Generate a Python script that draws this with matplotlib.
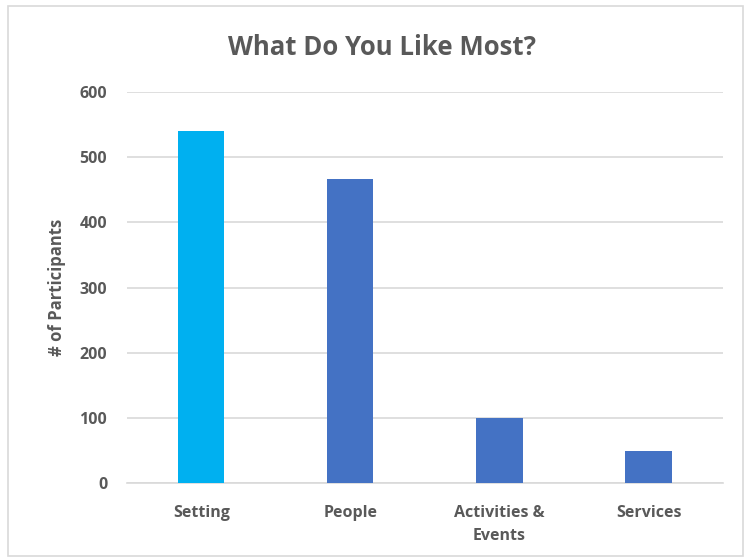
import matplotlib
matplotlib.use('Agg')
import matplotlib.pyplot as plt
from matplotlib.patches import Rectangle

categories = ['Setting', 'People', 'Activities &\nEvents', 'Services']
participants = [540, 467, 100, 49]
bar_colors = ['#00B0F0', '#4472C4', '#4472C4', '#4472C4']
y_ticks = [0, 100, 200, 300, 400, 500, 600]

TEXT = '#595959'
plt.rcParams['font.family'] = ['Open Sans', 'DejaVu Sans']

fig = plt.figure(figsize=(7.54, 5.59), dpi=100)
fig.patch.set_facecolor('white')
# light frame around the whole chart area
fig.add_artist(Rectangle((0.011, 0.005), 0.975, 0.985, transform=fig.transFigure,
                         fill=False, edgecolor='#d9d9d9', linewidth=1.2))

ax = fig.add_axes([0.168, 0.136, 0.791, 0.699])
x = range(len(categories))
ax.bar(x, participants, width=0.31, color=bar_colors, zorder=3)

ax.set_xlim(-0.5, len(categories) - 0.5)
ax.set_ylim(0, 600)
ax.set_yticks(y_ticks)
ax.set_xticks(list(x))
ax.set_xticklabels(categories, fontsize=11.5, color=TEXT, fontweight='bold',
                   linespacing=1.55)
for lbl in ax.get_yticklabels():
    lbl.set_fontsize(11.5)
    lbl.set_color(TEXT)
    lbl.set_fontweight('bold')

ax.grid(axis='y', color='#d9d9d9', linewidth=1.2, zorder=0)
for s in ['top', 'right', 'left']:
    ax.spines[s].set_visible(False)
ax.spines['bottom'].set_color('#d9d9d9')
ax.spines['bottom'].set_linewidth(1.2)
ax.tick_params(length=0, pad=14)
ax.tick_params(axis='x', pad=16)

ax.set_ylabel('# of Participants', fontsize=12, color=TEXT, fontweight='bold', labelpad=10)
fig.text(0.506, 0.915, 'What Do You Like Most?', ha='center', va='center',
         fontsize=18.5, color=TEXT, fontweight='bold')

fig.savefig('out.png', dpi=100)
